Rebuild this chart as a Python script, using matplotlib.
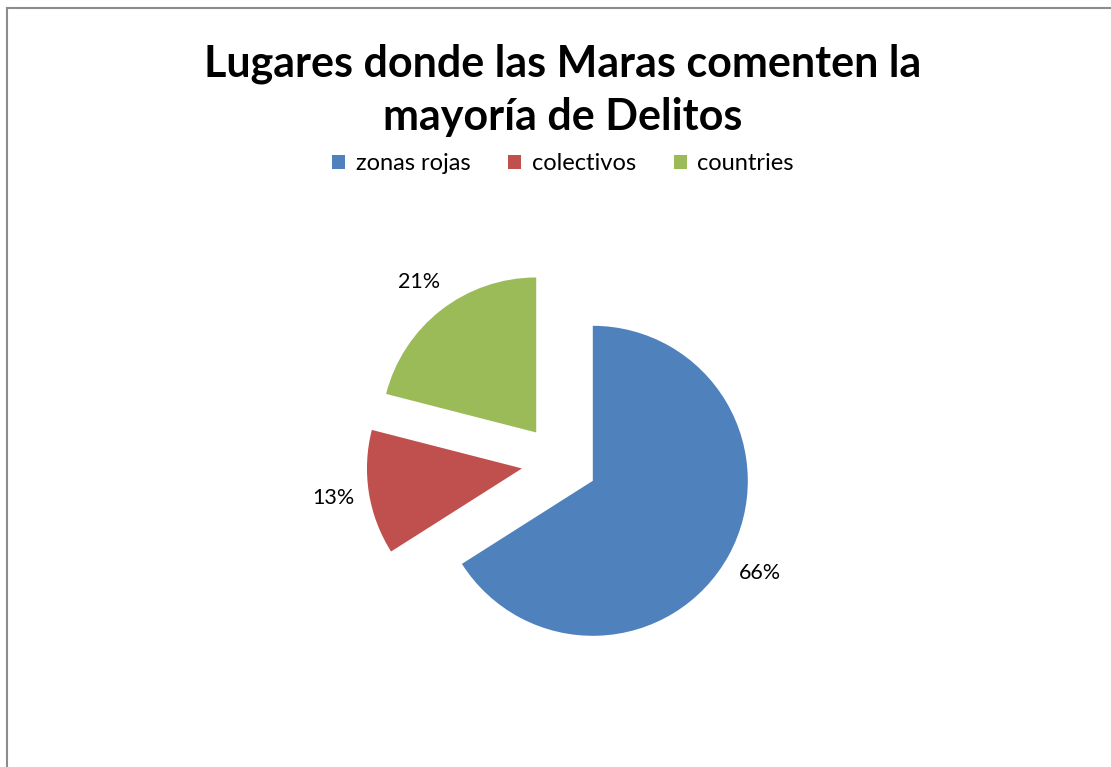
import matplotlib.pyplot as plt
from matplotlib.lines import Line2D

# datos del grafico
categorias = ["zonas rojas", "colectivos", "countries"]
porcentajes = [66, 13, 21]
colores = ["#4F81BD", "#C0504D", "#9BBB59"]
titulo = "Lugares donde las Maras comenten la\nmayoría de Delitos"

W, H = 1111, 767
fig = plt.figure(figsize=(W / 100, H / 100), dpi=100)
fig.patch.set_facecolor("white")

# eje en coordenadas de pixel (y hacia arriba)
ax = fig.add_axes([0, 0, 1, 1])
wedges, textos, autotextos = ax.pie(
    porcentajes,
    colors=colores,
    startangle=90,
    counterclock=False,
    explode=[38, 38, 38],  # en pixeles, pie no lo escala con el radio
    radius=155,
    center=(559.5, H - 462.5),
    autopct="%d%%",
    pctdistance=1.23,
    textprops={"fontsize": 15.5, "family": "Lato", "color": "black"},
    wedgeprops={"linewidth": 0},
)
ax.set_xlim(0, W)
ax.set_ylim(0, H)
ax.set_aspect("equal")
ax.axis("off")

# titulo
fig.text(563 / W, 1 - 90 / H, titulo, ha="center", va="center",
         fontsize=31, fontweight="bold", family="Lato", linespacing=1.38)

# leyenda
fig.legend(wedges, categorias, loc="center", bbox_to_anchor=(563 / W, 1 - 164 / H),
           ncol=3, frameon=False, prop={"family": "Lato", "size": 17},
           handlelength=0.55, handleheight=0.55, handletextpad=0.45, columnspacing=1.6)

# borde del area del grafico
fig.add_artist(Line2D([7 / W, 1], [1 - 8 / H, 1 - 8 / H], color="#8c8c8c", lw=1.5))
fig.add_artist(Line2D([7 / W, 7 / W], [0, 1 - 8 / H], color="#8c8c8c", lw=1.5))

fig.savefig("out.png", dpi=100)
